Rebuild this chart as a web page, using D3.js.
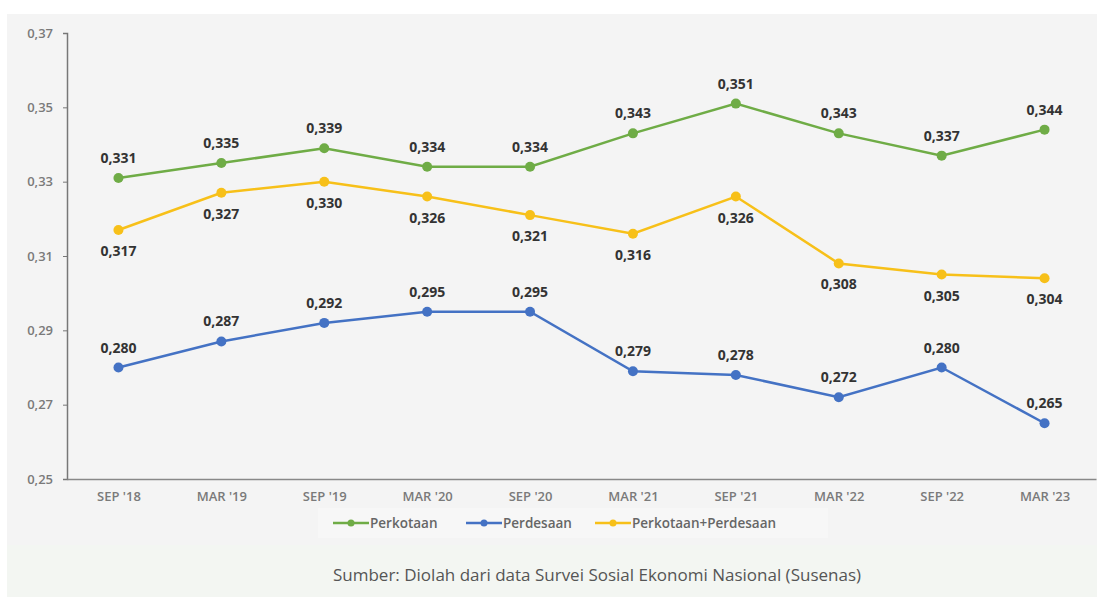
<!DOCTYPE html>
<html>
<head>
<meta charset="utf-8">
<script src="https://cdn.jsdelivr.net/npm/d3@7"></script>
<style>
  body { margin: 0; background: #ffffff; }
  svg { display: block; }
</style>
</head>
<body>
<div class="chart"></div>
<script>
    // Periods on the x axis
    var periods = ["SEP '18", "MAR '19", "SEP '19", "MAR '20", "SEP '20", "MAR '21", "SEP '21", "MAR '22", "SEP '22", "MAR '23"];

    // Gini ratio values
    var perkotaan = [0.331, 0.335, 0.339, 0.334, 0.334, 0.343, 0.351, 0.343, 0.337, 0.344];
    var perdesaan = [0.280, 0.287, 0.292, 0.295, 0.295, 0.279, 0.278, 0.272, 0.280, 0.265];
    var gabungan = [0.317, 0.327, 0.330, 0.326, 0.321, 0.316, 0.326, 0.308, 0.305, 0.304];

    var yTicks = [0.25, 0.27, 0.29, 0.31, 0.33, 0.35, 0.37];

    var width = 1103;
    var height = 597;
    var margin = ({ top: 33, right: 7, bottom: 118, left: 67 });

    var series = [
        { name: "Perkotaan", values: perkotaan, color: "#6fac46", labelSide: -1 },
        { name: "Perdesaan", values: perdesaan, color: "#4472c4", labelSide: -1 },
        { name: "Perkotaan+Perdesaan", values: gabungan, color: "#f7c019", labelSide: 1 }
    ];

    const svg = d3.select("div.chart")
        .append("svg")
        .attr("width", width)
        .attr("height", height);

    // Background panels
    svg.append("rect")
        .attr("x", 7).attr("y", 14)
        .attr("width", 1090).attr("height", 583)
        .attr("fill", "#f4f4f4");
    svg.append("rect")
        .attr("x", 7).attr("y", 545)
        .attr("width", 1090).attr("height", 52)
        .attr("fill", "#f3f6f2");

    var x = d3.scalePoint()
        .domain(periods)
        .range([margin.left, width - margin.right])
        .padding(0.5);
    var y = d3.scaleLinear()
        .domain([0.25, 0.37])
        .range([height - margin.bottom, margin.top]);

    var fmt = v => d3.format(".3f")(v).replace(".", ",");
    var fmtTick = v => d3.format(".2f")(v).replace(".", ",");

    // Axes
    svg.append("g")
        .attr("transform", `translate(${margin.left},0)`)
        .call(d3.axisLeft(y).tickValues(yTicks).tickFormat(fmtTick).tickSize(4).tickPadding(10))
        .call(g => g.select(".domain").attr("stroke", "#777").attr("stroke-width", 1.5))
        .call(g => g.selectAll(".tick line").attr("stroke", "#777"))
        .call(g => g.selectAll(".tick text")
            .attr("fill", "#7a7a7a")
            .style("font-family", "Open Sans, sans-serif")
            .style("font-size", "13px")
            .style("font-weight", "600"));

    svg.append("g")
        .attr("transform", `translate(0,${height - margin.bottom})`)
        .call(d3.axisBottom(x).tickSize(0).tickPadding(13).tickSizeOuter(0))
        .call(g => g.select(".domain").attr("stroke", "#888").attr("stroke-width", 1.5))
        .call(g => g.selectAll(".tick text")
            .attr("fill", "#7a7a7a")
            .style("font-family", "Open Sans, sans-serif")
            .style("font-size", "13px")
            .style("font-weight", "600"));

    // Lines, dots and labels
    var line = d3.line()
        .x((d, i) => x(periods[i]))
        .y(d => y(d));

    series.forEach(function (s) {
        var g = svg.append("g");
        g.append("path")
            .attr("d", line(s.values))
            .attr("fill", "none")
            .attr("stroke", s.color)
            .attr("stroke-width", 2.5);
        g.selectAll("circle")
            .data(s.values)
            .join("circle")
            .attr("cx", (d, i) => x(periods[i]))
            .attr("cy", d => y(d))
            .attr("r", 5)
            .attr("fill", s.color);
        g.selectAll("text")
            .data(s.values)
            .join("text")
            .attr("x", (d, i) => x(periods[i]))
            .attr("y", d => y(d) + (s.labelSide < 0 ? -15 : 26))
            .attr("text-anchor", "middle")
            .attr("fill", "#333")
            .style("font-family", "Open Sans, sans-serif")
            .style("font-size", "14px")
            .style("font-weight", "700")
            .text(d => fmt(d));
    });

    // Legend
    var legend = svg.append("g");
    legend.append("rect")
        .attr("x", 318).attr("y", 508)
        .attr("width", 510).attr("height", 30)
        .attr("fill", "#f7f7f7");
    var legendX = [333, 466, 595];
    series.forEach(function (s, i) {
        var lg = legend.append("g").attr("transform", `translate(${legendX[i]},523)`);
        lg.append("line")
            .attr("x1", 0).attr("x2", 36)
            .attr("stroke", s.color).attr("stroke-width", 2.5);
        lg.append("circle")
            .attr("cx", 18).attr("r", 3.5)
            .attr("fill", s.color);
        lg.append("text")
            .attr("x", 37).attr("y", 5)
            .attr("fill", "#666")
            .style("font-family", "Open Sans, sans-serif")
            .style("font-size", "13.5px")
            .style("font-weight", "600")
            .text(s.name);
    });

    // Source note
    svg.append("text")
        .attr("x", 597).attr("y", 581)
        .attr("text-anchor", "middle")
        .attr("fill", "#555")
        .style("font-family", "Open Sans, sans-serif")
        .style("font-size", "17px")
        .text("Sumber: Diolah dari data Survei Sosial Ekonomi Nasional (Susenas)");
</script>
</body>
</html>
